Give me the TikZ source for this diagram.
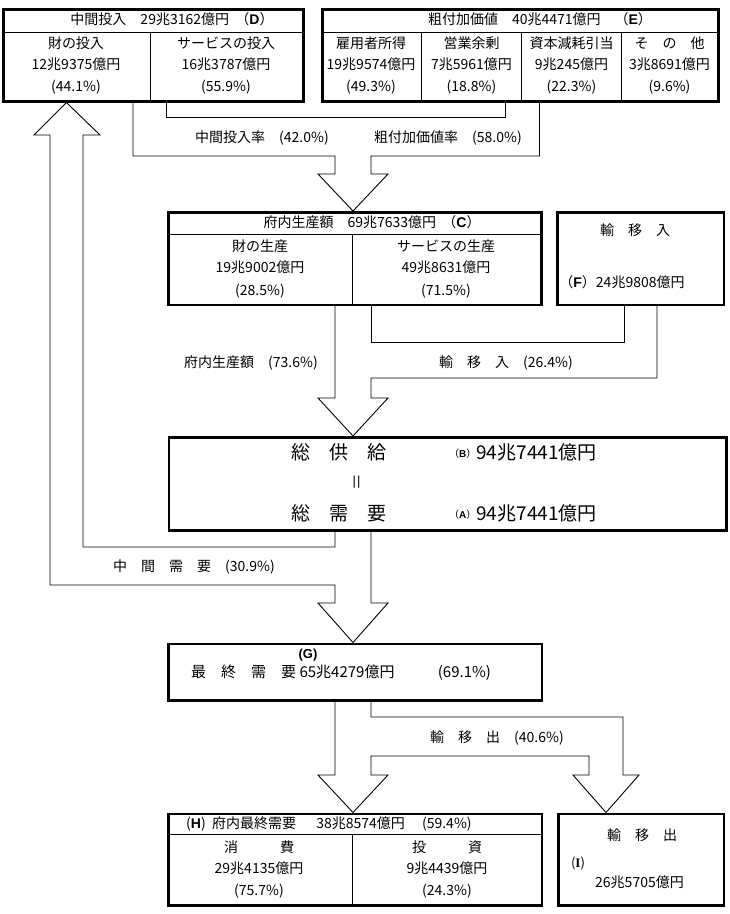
\documentclass[tikz,border=0pt]{standalone}
\usepackage{fontspec}
\setmainfont{Noto Sans CJK JP}
\newfontfamily\latf{Liberation Sans}
\newfontfamily\serf{Liberation Serif}
\newcommand\fsz[1]{\fontsize{#1}{#1}\selectfont}
\newcommand\Lb[1]{{\latf\bfseries #1}}
\begin{document}
\begin{tikzpicture}[x=1pt,y=-1pt,
  box/.style={draw, line width=2.6pt, inner sep=0pt, anchor=north west},
  div/.style={line width=0.9pt},
  conn/.style={line width=0.9pt, line join=miter},
  t/.style={inner sep=0pt, font=\fsz{14}, text height=12.3pt, text depth=1.7pt},
  tl/.style={t, anchor=west},
  gt/.style={inner sep=0pt, font=\fsz{15}, text height=13.2pt, text depth=1.8pt, anchor=west},
  big/.style={inner sep=0pt, font=\fsz{19}, text height=16.7pt, text depth=2.3pt},
  bigl/.style={big, anchor=west},
]
\useasboundingbox (0,0) rectangle (730,914);
\fill[white] (0,0) rectangle (730,914);

% ---------- D ----------
\node[box, minimum width=300pt, minimum height=92pt] (D) at (2,8) {};
\draw[div] (D.west |- 0,32) -- (D.east |- 0,32);
\draw[div] (150,32) -- (150,0 |- D.south);
\node[t] (Dh) at (172,19.5) {中間投入　29兆3162億円\ \ （\Lb{D}）};
\node[t] (Da1) at (76,43.5) {財の投入};
\node[t] (Da2) at (76,64) {12兆9375億円};
\node[t] (Da3) at (76,86) {(44.1\%)};
\node[t] (Db1) at (226,43.5) {サービスの投入};
\node[t] (Db2) at (226,64) {16兆3787億円};
\node[t] (Db3) at (226,86) {(55.9\%)};

% ---------- E ----------
\node[box, minimum width=396pt, minimum height=92pt] (E) at (321,8) {};
\draw[div] (E.west |- 0,32) -- (E.east |- 0,32);
\draw[div] (421.5,32) -- (421.5,0 |- E.south);
\draw[div] (521.5,32) -- (521.5,0 |- E.south);
\draw[div] (621.5,32) -- (621.5,0 |- E.south);
\node[t] (Eh) at (540,19.5) {粗付加価値　40兆4471億円　（\Lb{E}）};
\node[t] (Ea1) at (371,43.5) {雇用者所得};
\node[t] (Ea2) at (371,64) {19兆9574億円};
\node[t] (Ea3) at (371,86) {(49.3\%)};
\node[t] (Eb1) at (471.5,43.5) {営業余剰};
\node[t] (Eb2) at (471.5,64) {7兆5961億円};
\node[t] (Eb3) at (471.5,86) {(18.8\%)};
\node[t] (Ec1) at (571.5,43.5) {資本減耗引当};
\node[t] (Ec2) at (571.5,64) {9兆245億円};
\node[t] (Ec3) at (571.5,86) {(22.3\%)};
\node[t] (Ed1) at (669.5,43.5) {そ　の　他};
\node[t] (Ed2) at (669.5,64) {3兆8691億円};
\node[t] (Ed3) at (669.5,86) {(9.6\%)};

% ---------- C ----------
\node[box, minimum width=373pt, minimum height=92.5pt] (C) at (167,211) {};
\draw[div] (C.west |- 0,234) -- (C.east |- 0,234);
\draw[div] (352.5,234) -- (352.5,0 |- C.south);
\node[t] (Ch) at (372,222.5) {府内生産額　69兆7633億円\ \ （\Lb{C}）};
\node[t] (Ca1) at (260,246.5) {財の生産};
\node[t] (Ca2) at (260,267) {19兆9002億円};
\node[t] (Ca3) at (260,290) {(28.5\%)};
\node[t] (Cb1) at (446,246.5) {サービスの生産};
\node[t] (Cb2) at (446,267) {49兆8631億円};
\node[t] (Cb3) at (446,290) {(71.5\%)};

% ---------- F ----------
\node[box, minimum width=166.5pt, minimum height=92.5pt] (F) at (556,211) {};
\node[t] (F1) at (635,230) {輸　移　入};
\node[t] (F2) at (622,282) {（\Lb{F}）24兆9808億円};

% ---------- B / A ----------
\node[box, minimum width=557.5pt, minimum height=93pt] (BA) at (167.5,436) {};
\node[big] (B1) at (339,452) {総　供　給};
\node[bigl] (B2) at (449,452) {\raisebox{1.5pt}{\fsz{10}（\Lb{B}）}94兆7441億円};
\node[inner sep=0pt, font=\latf\fsz{13}] (eq) at (356.5,482.5) {|\kern1.2pt|};
\node[big] (A1) at (339,513) {総　需　要};
\node[bigl] (A2) at (449,513) {\raisebox{1.5pt}{\fsz{10}（\Lb{A}）}94兆7441億円};

% ---------- G ----------
\node[box, minimum width=373.5pt, minimum height=56.5pt] (G) at (167,642.5) {};
\node[inner sep=0pt, font=\fsz{13}] (Gl) at (308,655) {\latf\bfseries (G)};
\node[gt] (G1) at (191,672) {最　終　需　要 65兆4279億円};
\node[gt] (G2) at (437.7,672) {(69.1\%)};

% ---------- H ----------
\node[box, minimum width=373.5pt, minimum height=91.5pt] (H) at (167,812.5) {};
\draw[div] (H.west |- 0,834) -- (H.east |- 0,834);
\draw[div] (352.5,834) -- (352.5,0 |- H.south);
\node[tl] (Hh) at (186,823.5) {(\Lb{H})\ \ 府内最終需要　\ \ 38兆8574億円　\ (59.4\%)};
\node[t] (Ha1) at (259,847) {消　　　費};
\node[t] (Ha2) at (259,868) {29兆4135億円};
\node[t] (Ha3) at (259,890) {(75.7\%)};
\node[t] (Hb1) at (447,847) {投　　　資};
\node[t] (Hb2) at (447,868) {9兆4439億円};
\node[t] (Hb3) at (447,890) {(24.3\%)};

% ---------- I ----------
\node[box, minimum width=165.5pt, minimum height=91.5pt] (I) at (557,812.5) {};
\node[t] (I1) at (642,835) {輸　移　出};
\node[inner sep=0pt, font=\fsz{13}] (I2) at (578,863) {({\serf\bfseries I})};
\node[t] (I3) at (639.5,882) {26兆5705億円};

% ---------- block arrows ----------
% D + E -> C
\draw[conn] (133,0 |- D.south) -- (133,156) -- (335,156) -- (335,174) -- (318,174)
  -- (353,0 |- C.north) -- (388,174) -- (371,174) -- (371,156) -- (539.5,156)
  -- (539.5,0 |- E.south);
\draw[conn] (166,0 |- D.south) -- (166,117) -- (505,117) -- (505,0 |- E.south);
\node[t] (L1) at (262,137) {中間投入率　(42.0\%)};
\node[t] (L2) at (448,137) {粗付加価値率　(58.0\%)};

% C + F -> BA
\draw[conn] (335,0 |- C.south) -- (335,398) -- (318,398) -- (353,0 |- BA.north)
  -- (388,398) -- (371,398) -- (371,378) -- (657,378) -- (657,0 |- F.south);
\draw[conn] (371,0 |- C.south) -- (371,342) -- (624,342) -- (624,0 |- F.south);
\node[t] (L3) at (251,362) {府内生産額　(73.6\%)};
\node[t] (L4) at (506,362) {輸　移　入　(26.4\%)};

% BA -> D (intermediate demand) and BA -> G
\draw[conn] (335,0 |- BA.south) -- (335,547) -- (83,547) -- (83,135) -- (100,135)
  -- (66.5,0 |- D.south) -- (34,135) -- (50,135) -- (50,585) -- (335,585)
  -- (335,603) -- (318,603) -- (353,0 |- G.north) -- (388,603) -- (371,603)
  -- (371,0 |- BA.south);
\node[t] (L5) at (194,566) {中　間　需　要　(30.9\%)};

% G -> H and I
\draw[conn] (335,0 |- G.south) -- (335,775) -- (318,775) -- (353,0 |- H.north)
  -- (388,775) -- (371,775) -- (371,756) -- (589,756) -- (589,775) -- (573,775)
  -- (606,0 |- I.north) -- (639,775) -- (623,775) -- (623,717) -- (371,717)
  -- (371,0 |- G.south);
\node[t] (L6) at (497,737) {輸　移　出　(40.6\%)};
\end{tikzpicture}
\end{document}
